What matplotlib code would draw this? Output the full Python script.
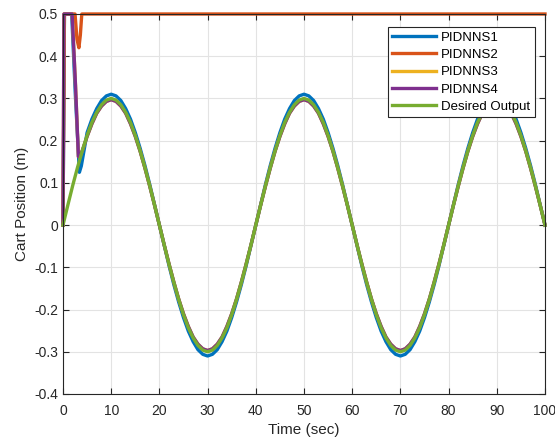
import numpy as np
import matplotlib
matplotlib.use('Agg')
import matplotlib.pyplot as plt

plt.rcParams['font.family'] = ['Liberation Sans', 'DejaVu Sans']

# every 1 sec, t = 0 .. 100
t = np.arange(0, 101, 1)

desired = [0.0, 0.047, 0.093, 0.136, 0.176, 0.212, 0.243, 0.267, 0.285, 0.296,
           0.300, 0.296, 0.285, 0.267, 0.243, 0.212, 0.176, 0.136, 0.093, 0.047,
           0.0, -0.047, -0.093, -0.136, -0.176, -0.212, -0.243, -0.267, -0.285, -0.296,
           -0.300, -0.296, -0.285, -0.267, -0.243, -0.212, -0.176, -0.136, -0.093, -0.047,
           0.0, 0.047, 0.093, 0.136, 0.176, 0.212, 0.243, 0.267, 0.285, 0.296,
           0.300, 0.296, 0.285, 0.267, 0.243, 0.212, 0.176, 0.136, 0.093, 0.047,
           0.0, -0.047, -0.093, -0.136, -0.176, -0.212, -0.243, -0.267, -0.285, -0.296,
           -0.300, -0.296, -0.285, -0.267, -0.243, -0.212, -0.176, -0.136, -0.093, -0.047,
           0.0, 0.047, 0.093, 0.136, 0.176, 0.212, 0.243, 0.267, 0.285, 0.296,
           0.300, 0.296, 0.285, 0.267, 0.243, 0.212, 0.176, 0.136, 0.093, 0.047,
           0.0]
pidnns1 = [0.0, 0.5, 0.5, 0.22, 0.15, 0.219, 0.251, 0.276, 0.295, 0.306,
           0.310, 0.306, 0.295, 0.276, 0.251, 0.219, 0.182, 0.141, 0.096, 0.048,
           0.0, -0.048, -0.096, -0.141, -0.182, -0.219, -0.251, -0.276, -0.295, -0.306,
           -0.310, -0.306, -0.295, -0.276, -0.251, -0.219, -0.182, -0.141, -0.096, -0.048,
           0.0, 0.048, 0.096, 0.141, 0.182, 0.219, 0.251, 0.276, 0.295, 0.306,
           0.310, 0.306, 0.295, 0.276, 0.251, 0.219, 0.182, 0.141, 0.096, 0.048,
           0.0, -0.048, -0.096, -0.141, -0.182, -0.219, -0.251, -0.276, -0.295, -0.306,
           -0.310, -0.306, -0.295, -0.276, -0.251, -0.219, -0.182, -0.141, -0.096, -0.048,
           0.0, 0.048, 0.096, 0.141, 0.182, 0.219, 0.251, 0.276, 0.295, 0.306,
           0.310, 0.306, 0.295, 0.276, 0.251, 0.219, 0.182, 0.141, 0.096, 0.048,
           0.0]
pidnns4 = [0.0, 0.5, 0.5, 0.25, 0.175, 0.210, 0.240, 0.265, 0.282, 0.293,
           0.297, 0.293, 0.282, 0.265, 0.240, 0.210, 0.175, 0.135, 0.092, 0.047,
           0.0, -0.047, -0.092, -0.135, -0.175, -0.210, -0.240, -0.265, -0.282, -0.293,
           -0.297, -0.293, -0.282, -0.265, -0.240, -0.210, -0.175, -0.135, -0.092, -0.047,
           0.0, 0.047, 0.092, 0.135, 0.175, 0.210, 0.240, 0.265, 0.282, 0.293,
           0.297, 0.293, 0.282, 0.265, 0.240, 0.210, 0.175, 0.135, 0.092, 0.047,
           0.0, -0.047, -0.092, -0.135, -0.175, -0.210, -0.240, -0.265, -0.282, -0.293,
           -0.297, -0.293, -0.282, -0.265, -0.240, -0.210, -0.175, -0.135, -0.092, -0.047,
           0.0, 0.047, 0.092, 0.135, 0.175, 0.210, 0.240, 0.265, 0.282, 0.293,
           0.297, 0.293, 0.282, 0.265, 0.240, 0.210, 0.175, 0.135, 0.092, 0.047,
           0.0]

# start-up transients (t < 5) read more finely
t_p1_0 = [0, 0.3, 1.8, 2.6, 3.4, 3.8, 4.6]
p1_0 = [0.0, 0.5, 0.5, 0.30, 0.125, 0.14, 0.192]
t_p2 = [0, 0.3, 2.5, 2.9, 3.3, 3.6, 3.9, 100]
p2 = [0.0, 0.5, 0.5, 0.44, 0.42, 0.45, 0.5, 0.5]
t_p4_0 = [0, 0.2, 1.9, 2.6, 3.2, 3.6, 4]
p4_0 = [0.0, 0.5, 0.5, 0.33, 0.162, 0.165, 0.176]

yticks = [-0.4, -0.3, -0.2, -0.1, 0, 0.1, 0.2, 0.3, 0.4, 0.5]
ytick_labels = ['-0.4', '-0.3', '-0.2', '-0.1', '0', '0.1', '0.2', '0.3', '0.4', '0.5']

fig = plt.figure(figsize=(5.55, 4.37), dpi=100)
ax = fig.add_axes([0.1135, 0.0984, 0.8685, 0.8696])

x1 = t_p1_0 + list(t[5:])
y1 = p1_0 + pidnns1[5:]
x4 = t_p4_0 + list(t[5:])
y4 = p4_0 + pidnns4[5:]

lw = 2.4
ax.plot(x1, y1, color='#0072BD', lw=lw, label='PIDNNS1', clip_on=False)
ax.plot(t_p2, p2, color='#D95319', lw=lw, label='PIDNNS2', clip_on=False)
ax.plot(x4, y4, color='#EDB120', lw=lw, label='PIDNNS3', clip_on=False)
ax.plot(x4, y4, color='#7E2F8E', lw=lw, label='PIDNNS4', clip_on=False)
ax.plot(t, desired, color='#77AC30', lw=lw, label='Desired Output', clip_on=False)

ax.set_xlim(0, 100)
ax.set_ylim(-0.4, 0.5)
ax.set_xticks(range(0, 101, 10))
ax.set_yticks(yticks)
ax.set_yticklabels(ytick_labels)
ax.tick_params(direction='in', length=4, top=True, right=True, labelsize=10,
               colors='#262626', width=0.8)
ax.tick_params(axis='x', pad=7)
for s in ax.spines.values():
    s.set_color('#262626')
    s.set_linewidth(0.8)
ax.grid(True, color='#e3e3e3', linewidth=0.8)
ax.set_axisbelow(True)
ax.set_xlabel('Time (sec)', fontsize=11, color='#262626', labelpad=4)
ax.set_ylabel('Cart Position (m)', fontsize=11, color='#262626', labelpad=4)

leg = ax.legend(loc='upper right', bbox_to_anchor=(0.979, 0.966), borderaxespad=0,
                fontsize=9.5, fancybox=False, framealpha=1, edgecolor='#262626',
                handlelength=3.3, handletextpad=0.4, labelspacing=0.38, borderpad=0.35)
leg.get_frame().set_linewidth(0.8)

plt.savefig('out.png', dpi=100)
plt.close(fig)
